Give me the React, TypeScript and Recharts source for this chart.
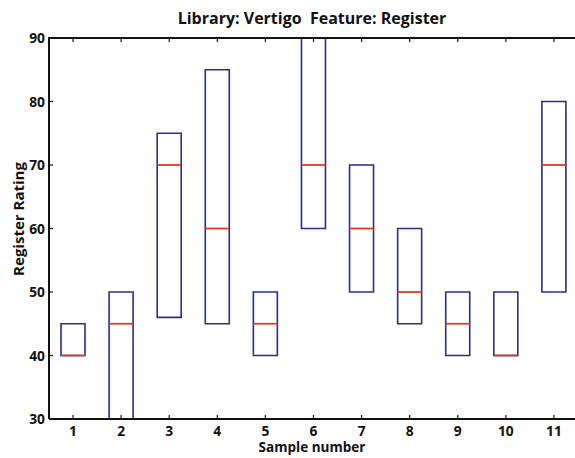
import { Bar, ComposedChart, ReferenceLine, Scatter, XAxis, YAxis } from "recharts";

const samples = ["1", "2", "3", "4", "5", "6", "7", "8", "9", "10", "11"];
const lowerQuartile = [40, 30, 46, 45, 40, 60, 50, 45, 40, 40, 50];
const upperQuartile = [45, 50, 75, 85, 50, 90, 70, 60, 50, 50, 80];
const medians = [40, 45, 70, 60, 45, 70, 60, 50, 45, 40, 70];
const yTicks = [30, 40, 50, 60, 70, 80, 90];

const rows = samples.map((s, i) => ({
  sample: s,
  box: [lowerQuartile[i], upperQuartile[i]],
  median: medians[i],
}));

const FONT = "'Open Sans', 'DejaVu Sans', sans-serif";
const INK = "#111";
const BOX = "#2a2e86";
const MEDIAN = "#e53a1c";
const SQUEEZE = 0.92; // the scanned labels run a bit narrow

const YTick = (props: any) => {
  const { x, y, payload } = props;
  return (
    <text
      transform={`translate(${x},${y}) scale(${SQUEEZE},1)`}
      textAnchor="end"
      dy="0.36em"
      fontFamily={FONT}
      fontWeight={700}
      fontSize={15}
      fill={INK}
    >
      {payload.value}
    </text>
  );
};

const XTick = (props: any) => {
  const { x, y, payload } = props;
  return (
    <text
      transform={`translate(${x},${y}) scale(${SQUEEZE},1)`}
      textAnchor="middle"
      dy="0.72em"
      fontFamily={FONT}
      fontWeight={700}
      fontSize={15}
      fill={INK}
    >
      {payload.value}
    </text>
  );
};

// median as a short horizontal segment across the box
const MedianLine = (props: any) => {
  const { cx, cy } = props;
  if (cx == null || cy == null) return <g />;
  return <line x1={cx - 12} x2={cx + 12} y1={cy} y2={cy} stroke={MEDIAN} strokeWidth={1.8} />;
};

const overlay = { position: "absolute" as const, fontWeight: 700, color: INK, pointerEvents: "none" as const };

export default function App() {
  return (
    <div
      style={{
        position: "absolute",
        left: 0,
        top: 0,
        width: 575,
        height: 458,
        overflow: "hidden",
        background: "#fff",
        fontFamily: FONT,
      }}
    >
      <ComposedChart
        width={600}
        height={458}
        data={rows}
        margin={{ top: 18, right: 22, bottom: 9, left: 0 }}
        barCategoryGap={0}
      >
        <XAxis
          dataKey="sample"
          height={30}
          interval={0}
          tickSize={-4}
          tickMargin={10}
          tick={<XTick />}
          axisLine={{ stroke: INK, strokeWidth: 2 }}
          tickLine={{ stroke: INK, strokeWidth: 1.2 }}
        />
        <XAxis
          xAxisId={1}
          orientation="top"
          dataKey="sample"
          height={20}
          interval={0}
          tickSize={-4}
          tickFormatter={() => ""}
          axisLine={{ stroke: INK, strokeWidth: 2 }}
          tickLine={{ stroke: INK, strokeWidth: 1.2 }}
        />
        <YAxis
          type="number"
          domain={[30, 90]}
          ticks={yTicks}
          width={49}
          interval={0}
          tickSize={-4}
          tickMargin={8}
          tick={<YTick />}
          axisLine={{ stroke: INK, strokeWidth: 2 }}
          tickLine={{ stroke: INK, strokeWidth: 1.2 }}
        />
        <Bar
          dataKey="box"
          barSize={24}
          fill="none"
          stroke={BOX}
          strokeWidth={1.6}
          isAnimationActive={false}
        />
        <Scatter dataKey="median" xAxisId={1} shape={MedianLine} isAnimationActive={false} />
        <ReferenceLine y={90} stroke={INK} strokeWidth={2} />
      </ComposedChart>
      {/* top edge of the axes frame */}
      <div style={{ ...overlay, left: 48, top: 37, width: 527, height: 2, background: INK }} />
      <div style={{ ...overlay, left: 0, width: 624, top: 7, textAlign: "center", fontSize: 16, whiteSpace: "pre" }}>
        {"Library: Vertigo  Feature: Register"}
      </div>
      <div
        style={{
          ...overlay,
          left: 18,
          top: 219,
          transform: "translate(-50%, -50%) rotate(-90deg)",
          fontSize: 15,
          whiteSpace: "nowrap",
        }}
      >
        Register Rating
      </div>
      <div
        style={{
          ...overlay,
          left: 0,
          width: 624,
          top: 439,
          lineHeight: "15px",
          textAlign: "center",
          fontSize: 15,
          transform: `scaleX(${SQUEEZE * 0.98})`,
        }}
      >
        Sample number
      </div>
    </div>
  );
}
